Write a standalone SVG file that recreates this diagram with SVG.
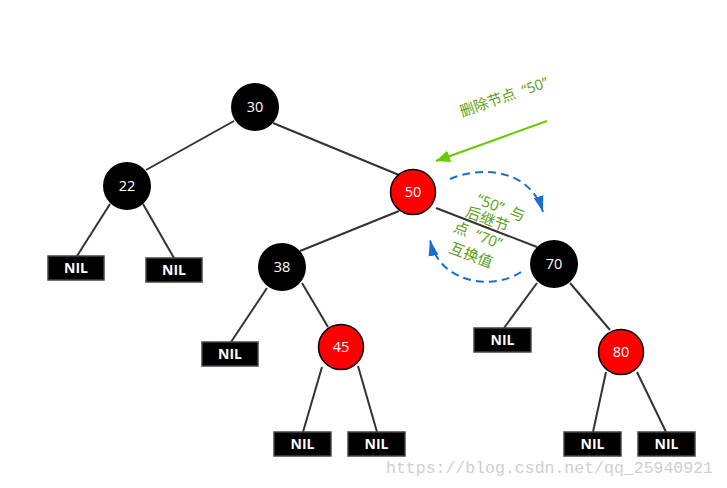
<svg xmlns="http://www.w3.org/2000/svg" width="727" height="488" viewBox="0 0 727 488">
<style>
.edge{stroke:#333;stroke-width:2;fill:none}
.blk{fill:#000}
.red{fill:#ff0000;stroke:#000;stroke-width:1.5}
.nt{font-family:"Open Sans","Noto Sans",sans-serif;font-size:14.5px;fill:#fff;text-anchor:middle}
.nil{fill:#000;stroke:#444;stroke-width:1.5}
.nilt{font-family:"Open Sans","Noto Sans",sans-serif;font-size:14px;font-weight:bold;fill:#fff;text-anchor:middle}
.gt{font-family:"Open Sans","Noto Sans CJK SC",sans-serif;fill:#5a9e14;text-anchor:middle}
.blue{stroke:#1a6ecf;stroke-width:2;fill:none;stroke-dasharray:8 5}
</style>
<defs>
<marker id="ga" markerUnits="userSpaceOnUse" markerWidth="16" markerHeight="12" refX="14" refY="6" orient="auto"><path d="M0,0 L14,6 L0,12 Z" fill="#66cc00"/></marker>
<marker id="ba" markerUnits="userSpaceOnUse" markerWidth="18" markerHeight="12" refX="16" refY="6" orient="auto"><path d="M0,1 L16,6 L0,11 Z" fill="#1a6ecf"/></marker>
</defs>
<rect width="727" height="488" fill="#fff"/>
<g id="connectors">
<line class="edge" x1="234" y1="121" x2="146" y2="170"/>
<line class="edge" x1="273" y1="123" x2="399" y2="175"/>
<line class="edge" x1="110" y1="204" x2="77" y2="256"/>
<line class="edge" x1="143" y1="204" x2="174" y2="258"/>
<line class="edge" x1="399" y1="211" x2="300" y2="251"/>
<line class="edge" x1="436" y1="208" x2="537" y2="247"/>
<line class="edge" x1="267" y1="288" x2="231" y2="342"/>
<line class="edge" x1="302" y1="283" x2="328" y2="327"/>
<line class="edge" x1="322" y1="367" x2="303" y2="432"/>
<line class="edge" x1="358" y1="366" x2="377" y2="432"/>
<line class="edge" x1="537" y1="283" x2="504" y2="328"/>
<line class="edge" x1="570" y1="283" x2="610" y2="330"/>
<line class="edge" x1="606" y1="372" x2="593" y2="432"/>
<line class="edge" x1="637" y1="372" x2="666" y2="432"/>
<line stroke="#66cc00" stroke-width="2" x1="547" y1="121" x2="436" y2="161" marker-end="url(#ga)"/>
<path class="blue" d="M450,179 C480,166 530,168 543,212" marker-end="url(#ba)"/>
<path class="blue" d="M521,272 C495,290 440,285 430,240" marker-end="url(#ba)"/>
</g>
<g id="n30"><circle class="blk" cx="255" cy="107" r="24"/><text class="nt" x="255" y="112">30</text></g>
<g id="n22"><circle class="blk" cx="127" cy="186" r="24"/><text class="nt" x="127" y="191">22</text></g>
<g id="n50"><circle class="red" cx="413" cy="192" r="22.5"/><text class="nt" x="413" y="197">50</text></g>
<g id="n38"><circle class="blk" cx="282" cy="267" r="24"/><text class="nt" x="282" y="272">38</text></g>
<g id="n45"><circle class="red" cx="341" cy="347" r="22.5"/><text class="nt" x="341" y="352">45</text></g>
<g id="n70"><circle class="blk" cx="554" cy="264" r="24"/><text class="nt" x="554" y="269">70</text></g>
<g id="n80"><circle class="red" cx="621" cy="352" r="22.5"/><text class="nt" x="621" y="357">80</text></g>
<g id="nil1"><rect class="nil" x="48" y="256" width="56" height="24"/><text class="nilt" x="76" y="273">NIL</text></g>
<g id="nil2"><rect class="nil" x="146" y="258" width="56" height="24"/><text class="nilt" x="174" y="275">NIL</text></g>
<g id="nil3"><rect class="nil" x="202" y="342" width="56" height="24"/><text class="nilt" x="230" y="359">NIL</text></g>
<g id="nil4"><rect class="nil" x="474" y="328" width="57" height="24"/><text class="nilt" x="502.5" y="345">NIL</text></g>
<g id="nil5"><rect class="nil" x="274" y="432" width="57" height="24"/><text class="nilt" x="302.5" y="449">NIL</text></g>
<g id="nil6"><rect class="nil" x="348" y="432" width="57" height="24"/><text class="nilt" x="376.5" y="449">NIL</text></g>
<g id="nil7"><rect class="nil" x="564" y="432" width="57" height="24"/><text class="nilt" x="592.5" y="449">NIL</text></g>
<g id="nil8"><rect class="nil" x="638" y="432" width="57" height="24"/><text class="nilt" x="666.5" y="449">NIL</text></g>
<g id="label-delete"><text class="gt" font-size="14.5" x="504" y="102" transform="rotate(-19 504 97)" xml:space="preserve">删除节点  “50”</text></g>
<g id="label-swap" font-size="15">
<text class="gt" x="501" y="213" transform="rotate(21 501 207.5)" xml:space="preserve">“50”  与</text>
<text class="gt" x="487.5" y="224.5" transform="rotate(21 487.5 219.3)">后继节</text>
<text class="gt" x="478" y="240.5" transform="rotate(21 478 235.2)" xml:space="preserve">点  “70”</text>
<text class="gt" x="471.2" y="260.3" transform="rotate(21 471.2 255)">互换值</text>
</g>
<text x="386" y="473" font-family="Liberation Mono,monospace" font-size="16" fill="#cfcfcf" textLength="327" lengthAdjust="spacingAndGlyphs">https://blog.csdn.net/qq_25940921</text>
</svg>
